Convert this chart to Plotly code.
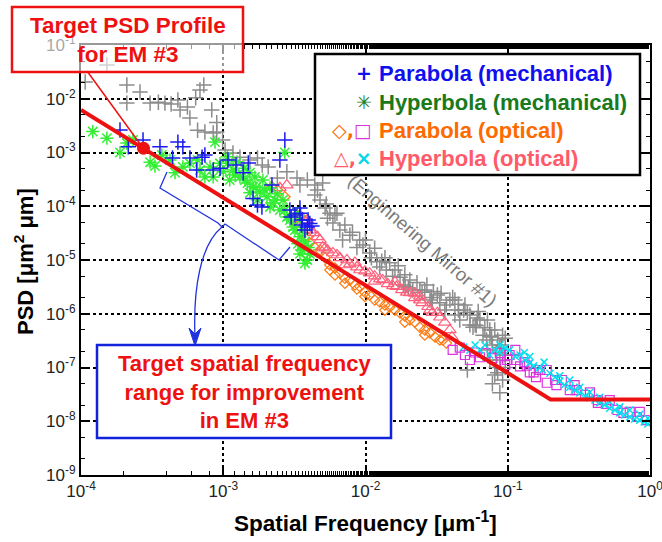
import plotly.graph_objects as go

# ---------------- data ----------------
# Engineering Mirror #1 (grey +)
em1_x = [1.07e-4, 1.52e-4, 2.10e-4, 2.10e-4, 2.60e-4, 3.06e-4, 3.5e-4, 3.89e-4, 4.3e-4, 4.8e-4,
         4.97e-4, 5.6e-4, 5.83e-4, 6.86e-4, 7.3e-4, 6.4e-4, 8.3e-4, 6.6e-4, 7.43e-4, 9.0e-4,
         9.0e-4, 8.5e-4, 9.9e-4, 1.03e-3, 1.17e-3, 1.31e-3, 1.54e-3, 1.74e-3, 1.88e-3, 2.07e-3,
         2.4e-3, 2.8e-3, 3.3e-3, 3.9e-3, 4.4e-3, 5.0e-3, 4.4e-3, 4.79e-3, 5.2e-3, 5.4e-3,
         5.9e-3, 5.62e-3, 6.3e-3, 6.9e-3, 6.6e-3, 7.76e-3, 8.7e-3, 9.1e-3, 1.07e-2, 1.16e-2,
         1.26e-2, 1.37e-2, 1.48e-2, 1.61e-2, 1.75e-2, 1.89e-2, 2.05e-2, 2.15e-2, 2.3e-2, 2.41e-2,
         2.5e-2, 2.7e-2, 2.84e-2, 2.95e-2, 3.2e-2, 3.33e-2, 3.61e-2, 3.92e-2, 4.1e-2, 4.25e-2,
         4.6e-2, 4.9e-2, 5.2e-2, 5.42e-2, 5.7e-2, 6.1e-2, 6.37e-2, 6.7e-2, 7.1e-2, 7.48e-2,
         7.8e-2, 8.3e-2, 8.8e-2, 9.2e-2, 8.3e-2, 8.8e-2, 9.2e-2, 8.8e-2, 8.1e-2, 7.48e-2,
         5.2e-2, 9.6e-2, 3.0e-2, 4.5e-2, 6.0e-2, 7.5e-2, 1.3e-2, 1.9e-2,
         2.61e-2, 2.9e-2, 3.4e-2, 3.7e-2, 4.25e-2, 4.5e-2, 5.0e-2, 5.42e-2, 5.9e-2, 6.2e-2,
         6.9e-2, 7.2e-2, 7.7e-2, 8.1e-2, 8.5e-2, 9.0e-2, 9.6e-2, 9.2e-2, 8.5e-2, 7.8e-2,
         9.6e-2, 7.2e-2, 3.46e-3, 4.6e-3, 5.3e-3, 6.1e-3, 7.16e-3, 8.1e-3, 9.6e-3, 1.0e-2,
         1.1e-2, 1.2e-2, 1.4e-2, 1.55e-2, 1.7e-2, 1.85e-2, 2.0e-2]
em1_y = [2.05e-2, 4.25e-2, 1.80e-2, 8.3e-3, 1.34e-2, 8.3e-3, 8.6e-3, 8.3e-3, 8.0e-3, 9.5e-3,
         6.2e-3, 7.0e-3, 4.4e-3, 1.46e-2, 1.80e-2, 1.04e-2, 6.2e-3, 2.6e-3, 2.4e-3, 3.6e-3,
         2.4e-3, 2.3e-3, 1.71e-3, 1.11e-3, 9.8e-4, 8.2e-4, 7.25e-4, 7.9e-4, 5.85e-4, 5.4e-4,
         3.35e-4, 4.4e-4, 3.35e-4, 3.08e-4, 2.48e-4, 2.7e-4, 1.62e-4, 1.31e-4, 9.3e-5, 6.0e-5,
         4.9e-5, 7.4e-5, 7.4e-5, 2.36e-5, 3.6e-5, 2.9e-5, 1.7e-5, 2.36e-5, 1.35e-5, 1.66e-5,
         7.4e-6, 1.1e-5, 8.9e-6, 6.5e-6, 4.8e-6, 5.3e-6, 4.25e-6, 2.77e-6, 3.8e-6, 2.77e-6,
         2.5e-6, 3.43e-6, 1.8e-6, 1.6e-6, 2.23e-6, 1.6e-6, 1.17e-6, 1.8e-6, 2.0e-6, 9.5e-7,
         7.65e-7, 1.17e-6, 1.05e-6, 6.2e-7, 5.6e-7, 8.3e-7, 7.65e-7, 4.0e-7, 3.25e-7, 5.0e-7,
         2.62e-7, 1.9e-7, 2.35e-7, 4.0e-7, 1.0e-7, 1.38e-7, 5.85e-8, 3.4e-8, 7.25e-8, 1.38e-7,
         9.0e-8, 1.7e-7, 2.6e-6, 1.5e-6, 6.0e-7, 3.8e-7, 9.5e-6, 3.2e-6,
         2.77e-6, 2.0e-6, 2.4e-6, 1.46e-6, 1.8e-6, 1.17e-6, 1.46e-6, 9.5e-7, 6.2e-7, 1.1e-6,
         5.5e-7, 7.65e-7, 3.7e-7, 5.0e-7, 3.25e-7, 2.62e-7, 3.5e-7, 1.71e-7, 8.0e-8, 5.0e-8,
         1.0e-7, 2.12e-7, 2.48e-4, 2.0e-4, 1.1e-4, 6.9e-5, 4.5e-5, 3.3e-5, 1.9e-5, 2.36e-5,
         1.1e-5, 9.3e-6, 6.5e-6, 5.0e-6, 7.8e-6, 3.43e-6, 3.0e-6]

# Parabola (mechanical) (blue +)
pm_x = [1.88e-4, 2.15e-4, 2.73e-4, 3.59e-4, 4.8e-4, 5.2e-4, 4.4e-4, 5.83e-4, 7.1e-4, 6.5e-4,
        8.5e-4, 7.43e-4, 1.08e-3, 1.23e-3, 1.38e-3, 2.71e-3, 2.5e-3, 2.2e-3, 1.62e-3, 1.74e-3,
        1.87e-3, 2.94e-3, 3.0e-3, 3.46e-3, 3.6e-3, 3.9e-3, 4.06e-3, 3.75e-3, 3.46e-3, 1.5e-3,
        9.5e-4, 3.19e-3, 3.55e-3, 3.95e-3, 4.2e-3]
pm_y = [2.62e-3, 1.28e-3, 1.71e-3, 1.28e-3, 1.56e-3, 1.28e-3, 7.9e-4, 7.9e-4, 8.2e-4, 4.72e-4,
        4.72e-4, 8.98e-4, 7.25e-4, 5.85e-4, 4.2e-4, 1.71e-3, 7.25e-4, 2.48e-4, 1.4e-4, 1.05e-4,
        9.7e-5, 8.5e-5, 6.3e-5, 9.3e-5, 5.55e-5, 4.1e-5, 4.8e-5, 3.6e-5, 7.4e-5, 6.4e-4,
        5.1e-4, 6.87e-5, 4.48e-5, 5.55e-5, 4.3e-5]

# Hyperbola (mechanical) (green *)
hm_x = [1.21e-4, 1.52e-4, 1.88e-4, 2.10e-4, 2.32e-4, 3.06e-4, 3.31e-4, 3.7e-4, 4.58e-4, 5.2e-4,
        5.83e-4, 6.86e-4, 7.43e-4, 8.5e-4, 8.75e-4, 9.48e-4, 8.07e-4, 1.07e-3, 1.07e-3, 1.17e-3,
        1.31e-3, 1.25e-3, 1.4e-3, 1.48e-3, 1.54e-3, 1.62e-3, 1.67e-3, 1.74e-3, 1.81e-3, 1.9e-3,
        2.03e-3, 2.13e-3, 2.13e-3, 2.25e-3, 2.4e-3, 2.5e-3, 2.63e-3, 2.71e-3, 2.8e-3, 2.94e-3,
        3.1e-3, 3.3e-3, 3.46e-3, 3.46e-3, 3.6e-3, 3.6e-3, 3.75e-3, 3.9e-3, 4.06e-3, 3.46e-3,
        3.35e-3, 3.75e-3, 1.54e-3, 1.0e-3, 1.11e-3,
        1.21e-3, 1.42e-3, 1.7e-3, 1.96e-3, 2.31e-3, 2.71e-3, 3.19e-3, 3.55e-3, 3.95e-3, 6.6e-4,
        4.22e-4]
hm_y = [2.45e-3, 1.85e-3, 1.0e-3, 1.5e-3, 1.71e-3, 6.6e-4, 5.6e-4, 8.98e-4, 4.2e-4, 5.4e-4,
        6.3e-4, 4.72e-4, 3.5e-4, 3.5e-4, 1.56e-3, 6.3e-4, 5.4e-4, 8.3e-4, 6.3e-4, 4.72e-4,
        3.5e-4, 6.7e-4, 5.1e-4, 2.7e-4, 4.2e-4, 2.3e-4, 3.5e-4, 1.31e-4, 1.85e-4, 3.08e-4,
        1.5e-4, 9.7e-5, 2.2e-4, 1.15e-4, 1.7e-4, 8.5e-5, 1.31e-4, 1.0e-3, 6.3e-5, 5.55e-5,
        4.1e-5, 7.4e-5, 5.55e-5, 2.7e-5, 3.6e-5, 1.53e-5, 8.7e-6, 1.0e-5, 1.3e-5, 1.3e-5,
        2.0e-5, 2.2e-5, 1.78e-4, 4.4e-4, 3.08e-4,
        3.8e-4, 3.08e-4, 2.2e-4, 2.0e-4, 1.31e-4, 8.5e-5, 3.6e-5, 1.9e-5, 1.7e-5, 7.25e-4,
        7.25e-4]

# Parabola (optical) (orange diamonds)
po_x = [2.2e-3, 2.4e-3, 2.71e-3, 3.1e-3, 3.3e-3, 3.9e-3, 4.06e-3, 4.4e-3, 4.79e-3, 5.19e-3,
        5.62e-3, 5.62e-3, 6.1e-3, 6.61e-3, 7.16e-3, 7.76e-3, 8.43e-3, 8.7e-3, 9.14e-3, 9.91e-3,
        1.07e-2, 1.16e-2, 1.26e-2, 1.37e-2, 1.48e-2, 1.61e-2, 1.75e-2, 1.89e-2, 2.05e-2, 2.22e-2,
        2.41e-2, 2.61e-2, 2.84e-2, 3.08e-2, 3.33e-2, 3.5e-2, 3.7e-2, 6.1e-3, 7.16e-3, 9.91e-3,
        1.37e-2, 1.89e-2, 2.61e-2]
po_y = [2.3e-4, 2.0e-4, 1.5e-4, 5.55e-5, 5.0e-5, 2.7e-5, 2.1e-5, 1.7e-5, 1.53e-5, 1.1e-5,
        8.07e-6, 6.52e-6, 7.1e-6, 5.7e-6, 4.6e-6, 4.25e-6, 3.43e-6, 2.9e-6, 3.2e-6, 2.5e-6,
        2.23e-6, 1.8e-6, 1.65e-6, 1.46e-6, 1.33e-6, 1.17e-6, 1.03e-6, 9.1e-7, 7.65e-7, 7.0e-7,
        5.6e-7, 5.0e-7, 4.4e-7, 3.7e-7, 3.25e-7, 3.25e-7, 2.85e-7, 5.26e-6, 3.7e-6, 2.1e-6,
        1.17e-6, 7.0e-7, 4.03e-7]

# Hyperbola (optical) (pink triangles)
ho_x = [2.8e-3, 2.5e-3, 3.3e-3, 3.46e-3, 3.75e-3, 3.9e-3, 4.06e-3, 4.3e-3, 4.6e-3, 4.79e-3,
        5.0e-3, 5.19e-3, 5.4e-3, 5.9e-3, 6.3e-3, 6.61e-3, 7.4e-3, 7.76e-3, 8.7e-3, 9.14e-3,
        9.91e-3, 1.07e-2, 1.16e-2, 1.26e-2, 1.32e-2, 1.43e-2, 1.56e-2, 1.65e-2, 1.8e-2, 1.95e-2,
        2.05e-2, 2.22e-2, 2.41e-2, 2.5e-2, 2.75e-2, 2.95e-2, 3.2e-2, 3.33e-2, 3.61e-2, 3.92e-2,
        4.05e-2, 7.16e-3, 8.43e-3, 1.16e-2, 1.61e-2, 2.22e-2, 2.84e-2, 2.41e-2]
ho_y = [2.48e-4, 2.2e-4, 6.87e-5, 6.87e-5, 5.3e-5, 5.55e-5, 3.61e-5, 3.2e-5, 2.7e-5, 2.36e-5,
        1.74e-5, 1.66e-5, 1.53e-5, 1.35e-5, 1.24e-5, 1.1e-5, 1.0e-5, 8.4e-6, 7.4e-6, 6.52e-6,
        6.2e-6, 5.7e-6, 5.0e-6, 4.4e-6, 4.25e-6, 3.6e-6, 3.3e-6, 3.2e-6, 2.77e-6, 2.5e-6,
        2.45e-6, 1.97e-6, 1.8e-6, 1.6e-6, 1.35e-6, 1.05e-6, 1.05e-6, 8.6e-7, 6.9e-7, 5.0e-7,
        3.7e-7, 8.07e-6, 9.0e-6, 4.0e-6, 3.9e-6, 2.4e-6, 1.17e-6, 2.1e-6]

# Parabola (optical) (magenta squares)
ps_x = [4.1e-2, 4.6e-2, 5.42e-2, 5.9e-2, 7.0e-2, 7.8e-2, 8.8e-2, 9.9e-2, 0.103, 0.115,
        0.131, 0.136, 0.143, 0.158, 0.168, 0.188, 0.188, 0.22, 0.24, 0.273,
        0.305, 0.35, 0.43, 0.43, 0.49, 0.59, 0.65, 0.72, 0.81, 0.95,
        0.378, 0.122, 5.0e-2, 6.37e-2, 9.6e-2, 0.113, 0.152, 0.215, 0.295, 0.521,
        0.847]
ps_y = [2.12e-7, 2.35e-7, 1.38e-7, 1.9e-7, 1.85e-7, 1.5e-7, 1.85e-7, 1.38e-7, 1.71e-7, 1.38e-7,
        1.26e-7, 1.08e-7, 8.1e-8, 6.6e-8, 8.98e-8, 8.98e-8, 5.2e-8, 4.72e-8, 5.85e-8, 3.81e-8,
        3.81e-8, 3.08e-8, 2.48e-8, 2.2e-8, 2.1e-8, 1.62e-8, 1.43e-8, 1.5e-8, 1.2e-8, 1.05e-8,
        3.45e-8, 1.05e-7, 1.71e-7, 1.55e-7, 1.11e-7, 2.12e-7, 8.1e-8, 5.85e-8, 4.72e-8, 2.48e-8,
        1.5e-8]

# Hyperbola (optical) (cyan x)
hx_x = [4.9e-2, 5.42e-2, 6.37e-2, 6.9e-2, 7.48e-2, 8.8e-2, 9.6e-2, 0.103, 0.113, 0.122,
        0.131, 0.143, 0.152, 0.168, 0.175, 0.198, 0.215, 0.232, 0.25, 0.273,
        0.295, 0.321, 0.35, 0.378, 0.41, 0.444, 0.48, 0.521, 0.565, 0.613,
        0.665, 0.721, 0.78, 0.847, 0.91, 0.966, 0.232, 0.321, 0.444, 0.613,
        0.847, 0.143, 8.8e-2, 5.9e-2, 8.1e-2, 0.131, 0.18, 0.273, 0.378, 0.521,
        0.721, 0.966]
hx_y = [2.4e-7, 2.12e-7, 2.12e-7, 2.62e-7, 1.71e-7, 1.9e-7, 2.3e-7, 2.12e-7, 1.6e-7, 1.71e-7,
        1.38e-7, 1.22e-7, 1.08e-7, 9.9e-8, 8.98e-8, 7.8e-8, 6.6e-8, 5.6e-8, 4.72e-8, 4.3e-8,
        3.81e-8, 3.35e-8, 2.95e-8, 2.7e-8, 2.48e-8, 2.2e-8, 2.0e-8, 1.75e-8, 1.62e-8, 1.43e-8,
        1.31e-8, 1.2e-8, 1.1e-8, 1.05e-8, 9.7e-9, 8.9e-9, 7.0e-8, 4.3e-8, 2.8e-8, 1.85e-8,
        1.35e-8, 1.6e-7, 2.62e-7, 2.62e-7, 2.12e-7, 1.9e-7, 1.26e-7, 5.85e-8, 3.45e-8, 2.3e-8,
        1.62e-8, 1.14e-8]

# Target PSD profile for EM #3 (red line) and its marked point
target_x = [1e-4, 0.2, 1.0]
target_y = [6.2e-3, 2.55e-8, 2.55e-8]
target_pt_x = [2.75e-4]
target_pt_y = [1.2e-3]

x_tickvals = [1e-4, 1e-3, 1e-2, 1e-1, 1e0]
x_ticktext = ["10<sup>-4</sup>", "10<sup>-3</sup>", "10<sup>-2</sup>", "10<sup>-1</sup>", "10<sup>0</sup>"]
y_tickvals = [1e-9, 1e-8, 1e-7, 1e-6, 1e-5, 1e-4, 1e-3, 1e-2, 1e-1]
y_ticktext = ["10<sup>-%d</sup>" % k for k in range(9, 0, -1)]

legend_symbols = ["<span style='color:#1010ee'>+</span>",
                  "<span style='color:#1a7a1a'>✳</span>",
                  "<span style='color:#ff6a00'>◇</span>,<span style='color:#dd33dd'>□</span>",
                  "<span style='color:#ff5a6a'>△</span>,<span style='color:#00d8e8'>×</span>"]
legend_labels = ["Parabola (mechanical)", "Hyperbola (mechanical)",
                 "Parabola (optical)", "Hyperbola (optical)"]
legend_colors = ["#1010ee", "#1a7a1a", "#ff6a00", "#ff5a6a"]

# ---------------- layout helpers (pixel -> paper) ----------------
L, R, T, B = 81, 650, 45, 475
W, H = 662, 542


def pxx(v):
    return (v - L) / (R - L)


def pxy(v):
    return (B - v) / (B - T)


def path(points, close=False):
    s = "M " + " L ".join("%.4f,%.4f" % (pxx(a), pxy(b)) for a, b in points)
    return s + (" Z" if close else "")


FONT = "Arial, Liberation Sans, sans-serif"


def open_marker(symbol, size, color, width):
    return dict(symbol=symbol, size=size, color=color, line=dict(color=color, width=width))


fig = go.Figure()

fig.add_trace(go.Scatter(x=em1_x, y=em1_y, mode="markers",
                         marker=open_marker("cross-thin-open", 11, "#8c8c8c", 1.5)))
fig.add_trace(go.Scatter(x=po_x, y=po_y, mode="markers",
                         marker=open_marker("diamond-open", 8, "#ff7a10", 1.2)))
fig.add_trace(go.Scatter(x=ho_x, y=ho_y, mode="markers",
                         marker=open_marker("triangle-up-open", 11, "#ff5f7a", 1.2)))
fig.add_trace(go.Scatter(x=hm_x, y=hm_y, mode="markers",
                         marker=open_marker("asterisk-open", 11, "#33ee33", 1.5)))
fig.add_trace(go.Scatter(x=pm_x, y=pm_y, mode="markers",
                         marker=open_marker("cross-thin-open", 11, "#1a1aee", 1.5)))
fig.add_trace(go.Scatter(x=ps_x, y=ps_y, mode="markers",
                         marker=open_marker("square-open", 9, "#dd33dd", 1.2)))
fig.add_trace(go.Scatter(x=hx_x, y=hx_y, mode="markers",
                         marker=open_marker("x-thin-open", 7, "#00e0f0", 1.5)))
fig.add_trace(go.Scatter(x=target_x, y=target_y, mode="lines",
                         line=dict(color="#ee1111", width=4)))
fig.add_trace(go.Scatter(x=target_pt_x, y=target_pt_y, mode="markers",
                         marker=dict(symbol="circle", size=13, color="#ee1111")))

axis_common = dict(type="log", showline=True, linecolor="black", linewidth=2,
                   mirror="allticks", ticks="inside", ticklen=8, tickwidth=1.5,
                   tickcolor="black", showgrid=True, gridcolor="black",
                   griddash="dot", gridwidth=1.5, zeroline=False, automargin=False,
                   ticklabeloverflow="allow",
                   tickfont=dict(family=FONT, size=17, color="#222"),
                   minor=dict(ticks="inside", ticklen=4, tickwidth=1,
                              tickcolor="black", showgrid=False))

fig.update_xaxes(range=[-4, 0], tickvals=x_tickvals, ticktext=x_ticktext, **axis_common)
fig.update_yaxes(range=[-9, -1], tickvals=y_tickvals, ticktext=y_ticktext, **axis_common)

shapes = []
annotations = []

# axis titles
annotations.append(dict(xref="paper", yref="paper", x=pxx(365), y=pxy(522),
                        text="<b>Spatial Frequency [μm<sup>-1</sup>]</b>", showarrow=False,
                        font=dict(family=FONT, size=22.5, color="black"),
                        xanchor="center", yanchor="middle"))
annotations.append(dict(xref="paper", yref="paper", x=pxx(24), y=pxy(262),
                        text="<b>PSD [μm<sup>2</sup> μm]</b>", showarrow=False, textangle=-90,
                        font=dict(family=FONT, size=22, color="black"),
                        xanchor="center", yanchor="middle"))

# legend box
shapes.append(dict(type="rect", xref="paper", yref="paper",
                   x0=pxx(315), x1=pxx(640), y0=pxy(175), y1=pxy(54),
                   line=dict(color="black", width=2.5), fillcolor="white", layer="above"))
legend_y = [73, 102, 130, 158]
for sym, lab, col, yy in zip(legend_symbols, legend_labels, legend_colors, legend_y):
    annotations.append(dict(xref="paper", yref="paper", x=pxx(374), y=pxy(yy),
                            text="<b>" + sym + "</b>", showarrow=False,
                            xanchor="right", yanchor="middle",
                            font=dict(family="DejaVu Sans, " + FONT, size=19, color=col)))
    annotations.append(dict(xref="paper", yref="paper", x=pxx(377), y=pxy(yy),
                            text="<b>" + lab + "</b>", showarrow=False,
                            xanchor="left", yanchor="middle",
                            font=dict(family=FONT, size=22, color=col)))

# target PSD profile call-out
shapes.append(dict(type="line", xref="paper", yref="paper",
                   x0=pxx(87), y0=pxy(71), x1=pxx(143), y1=pxy(148),
                   line=dict(color="#ee1111", width=1.5), layer="above"))
shapes.append(dict(type="rect", xref="paper", yref="paper",
                   x0=pxx(12), x1=pxx(243), y0=pxy(72), y1=pxy(7),
                   line=dict(color="#ee1111", width=2.5),
                   fillcolor="rgba(255,255,255,0.6)", layer="above"))
annotations.append(dict(xref="paper", yref="paper", x=pxx(128), y=pxy(40),
                        text="<b>Target PSD Profile<br>for EM #3</b>", showarrow=False,
                        xanchor="center", yanchor="middle",
                        font=dict(family=FONT, size=22.5, color="#ee1111")))

# bracket + arrow to the improvement range box
shapes.append(dict(type="path", xref="paper", yref="paper", layer="above",
                   path=path([(167, 172), (160, 188), (218, 223), (222, 227),
                              (225, 224), (279, 260), (290, 247)]),
                   line=dict(color="#2233dd", width=1.3)))
shapes.append(dict(type="path", xref="paper", yref="paper", layer="above",
                   path="M %.4f,%.4f C %.4f,%.4f %.4f,%.4f %.4f,%.4f" % (
                       pxx(222), pxy(227), pxx(200), pxy(245), pxx(193), pxy(290),
                       pxx(195), pxy(338)),
                   line=dict(color="#2233dd", width=1.3)))
shapes.append(dict(type="path", xref="paper", yref="paper", layer="above",
                   path=path([(189, 328), (195, 346), (201, 328), (195, 334)], close=True),
                   line=dict(color="#2233dd", width=1), fillcolor="#2233dd"))
shapes.append(dict(type="rect", xref="paper", yref="paper",
                   x0=pxx(97), x1=pxx(391), y0=pxy(438), y1=pxy(345),
                   line=dict(color="#1122dd", width=2.5), fillcolor="white", layer="above"))
annotations.append(dict(xref="paper", yref="paper", x=pxx(244), y=pxy(392),
                        text="<b>Target spatial frequency<br>range for improvement<br>in EM #3</b>",
                        showarrow=False, xanchor="center", yanchor="middle",
                        font=dict(family=FONT, size=22, color="#ee1111")))

# rotated label for the grey data
annotations.append(dict(xref="paper", yref="paper", x=pxx(423), y=pxy(240),
                        text="(Enginnering Mirror #1)", showarrow=False, textangle=41,
                        xanchor="center", yanchor="middle",
                        font=dict(family=FONT, size=18.5, color="#7a7a7a")))

fig.update_layout(width=W, height=H, showlegend=False,
                  margin=dict(l=L, r=W - R, t=T, b=H - B),
                  paper_bgcolor="white", plot_bgcolor="white",
                  shapes=shapes, annotations=annotations)

fig.write_html("out.html")
